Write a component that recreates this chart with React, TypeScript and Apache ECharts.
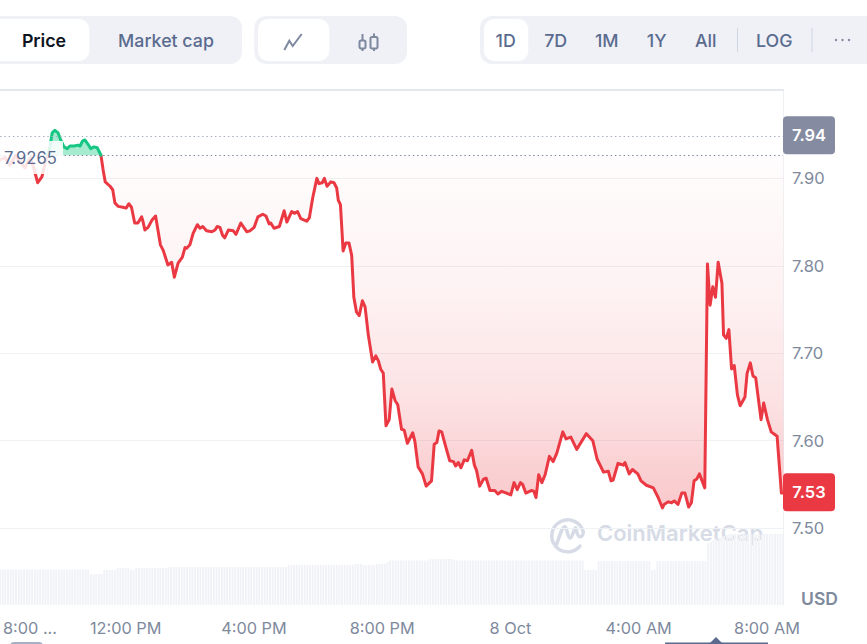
import React, { useEffect, useRef } from "react";
import * as echarts from "echarts";

const baseline = 7.9265;
const highPrice = 7.9477;
const highText = "7.94";
const lastPrice = 7.541;
const lastText = "7.53";
const yTicks = [7.5, 7.6, 7.7, 7.8, 7.9];
const xTicks = [61, 240, 480, 720, 960, 1200, 1440];
const xTickLabels = ["8:00 ...", "12:00 PM", "4:00 PM", "8:00 PM", "8 Oct", "4:00 AM", "8:00 AM"];
const rangeButtons = ["1D", "7D", "1M", "1Y", "All", "LOG"];

// minutes after 8:00 AM
const minutes = [
  8, 18, 27, 37, 46, 55, 65, 70, 79, 87, 94, 98,
  102, 106, 111, 117, 122, 128, 134, 139, 147, 154, 158, 163, 167, 173, 178, 184, 190, 195, 197,
  201, 205, 214, 219, 223, 229, 238, 244, 249, 254, 260, 266, 273, 275, 279, 285, 292, 299, 308, 313, 322, 329, 334, 341, 349, 354, 357, 363, 369, 377, 382, 387, 394,
  404, 410, 414, 419, 424, 428, 435, 444, 449, 458, 469, 475, 483, 490, 499, 505, 511, 514, 520, 530, 539, 544, 553, 558, 564, 570, 581, 586, 592,
  600, 604, 610, 614, 619, 626, 632, 637, 640, 644, 649, 654, 660, 665, 669, 674, 679, 685, 690, 696, 704, 710, 715, 719, 724, 729, 735, 740, 746, 751, 758, 763, 769, 779, 783, 789, 797,
  804, 814, 819, 824, 828, 833, 841, 848, 855, 859, 864, 869, 875, 881, 889, 894, 898, 904, 911, 916, 923, 932, 938, 945, 954, 962, 968, 974, 980, 984, 990,
  1001, 1005, 1009, 1014, 1020, 1026, 1034, 1041, 1048, 1059, 1065, 1074, 1085, 1103, 1115, 1123, 1135, 1144, 1149, 1153, 1162, 1167, 1172, 1175, 1183, 1189, 1199,
  1205, 1215, 1228, 1237, 1245, 1248, 1256, 1262, 1267, 1274, 1281, 1287, 1294, 1299, 1304, 1309, 1314, 1324, 1329, 1334, 1339, 1344, 1349, 1356, 1359, 1364, 1369, 1374, 1379, 1385, 1390, 1399,
  1403, 1409, 1414, 1419, 1429, 1434, 1441, 1448, 1459, 1467, 1471,
];

const prices = [
  7.921, 7.924, 7.915, 7.926, 7.919, 7.912, 7.924, 7.915, 7.895, 7.902, 7.921, 7.9265,
  7.937, 7.952, 7.955, 7.952, 7.944, 7.936, 7.934, 7.937, 7.937, 7.938, 7.937, 7.943, 7.944, 7.939, 7.934, 7.936, 7.935, 7.929, 7.9265,
  7.91, 7.896, 7.891, 7.887, 7.872, 7.868, 7.867, 7.866, 7.871, 7.867, 7.849, 7.849, 7.856, 7.852, 7.841, 7.844, 7.852, 7.857, 7.824, 7.818, 7.801, 7.804, 7.787, 7.803, 7.81, 7.821, 7.82, 7.824, 7.837, 7.847, 7.843, 7.845, 7.84,
  7.839, 7.841, 7.845, 7.844, 7.835, 7.832, 7.841, 7.84, 7.836, 7.849, 7.839, 7.84, 7.844, 7.856, 7.859, 7.857, 7.848, 7.849, 7.843, 7.845, 7.863, 7.85, 7.862, 7.86, 7.862, 7.854, 7.851, 7.855, 7.877,
  7.9, 7.894, 7.895, 7.9, 7.891, 7.896, 7.895, 7.889, 7.875, 7.87, 7.817, 7.826, 7.826, 7.812, 7.764, 7.747, 7.743, 7.76, 7.753, 7.721, 7.69, 7.697, 7.691, 7.682, 7.677, 7.617, 7.624, 7.659, 7.646, 7.641, 7.613, 7.612, 7.597, 7.609, 7.599, 7.57, 7.562,
  7.548, 7.554, 7.596, 7.598, 7.611, 7.61, 7.592, 7.577, 7.576, 7.571, 7.575, 7.569, 7.578, 7.577, 7.589, 7.572, 7.566, 7.548, 7.556, 7.557, 7.543, 7.543, 7.539, 7.542, 7.54, 7.538, 7.552, 7.544, 7.552, 7.55, 7.54,
  7.543, 7.542, 7.535, 7.561, 7.552, 7.561, 7.582, 7.576, 7.586, 7.61, 7.602, 7.604, 7.59, 7.608, 7.6, 7.579, 7.564, 7.565, 7.554, 7.555, 7.574, 7.573, 7.572, 7.575, 7.562, 7.567, 7.562,
  7.554, 7.549, 7.546, 7.535, 7.523, 7.527, 7.53, 7.529, 7.531, 7.527, 7.54, 7.54, 7.524, 7.529, 7.554, 7.556, 7.562, 7.546, 7.802, 7.755, 7.776, 7.764, 7.804, 7.78, 7.721, 7.717, 7.727, 7.682, 7.686, 7.652, 7.64, 7.65,
  7.677, 7.689, 7.674, 7.672, 7.624, 7.643, 7.624, 7.61, 7.605, 7.54, 7.54,
];

// one bar each 5 minutes from 8:00 AM
const volumes = [
  35.5, 35.5, 35.5, 35.5, 35.5, 35.5, 35.5, 35.5, 35.5, 35.5, 35.5, 35.5, 35.5, 35.5, 35.5, 35.5, 35.5, 35.5, 35.5, 35.5,
  35.5, 35.5, 35.5, 35.5, 35.5, 35.5, 35.5, 35.5, 35.5, 35.5, 35.5, 35.5, 35.5, 35.5, 35.5,
  31, 31, 31, 31, 31, 35, 35, 35, 35, 35, 37, 37, 37, 37, 37, 35, 35,
  37, 37, 37, 37, 37, 37, 37, 37, 37, 37, 37, 37,
  38, 38, 38, 38, 38, 38, 38, 38, 38, 38, 38, 38, 38, 38, 38, 38, 38, 38, 38, 38, 38, 38, 38,
  38, 38, 38, 38, 38, 38, 38, 38, 38, 38, 38, 38, 38, 38, 38, 38, 38, 38, 38, 38, 38, 38,
  40, 40, 40, 40, 40, 40, 40, 40, 40, 40, 40, 40, 40, 40, 40, 40, 40, 40, 40, 40, 40, 40, 40, 40, 40,
  41, 41, 41, 40, 40, 40, 40, 40, 41, 41, 41, 41, 43,
  44.5, 44.5, 44.5, 44.5, 44.5, 44.5, 44.5, 44.5, 44.5, 44.5, 44.5, 44.5, 44.5, 44.5, 44.5,
  46, 46, 46, 46, 46, 46, 46, 46, 46,
  44.5, 44.5, 44.5, 44.5, 44.5, 44.5, 44.5, 44.5, 44.5, 44.5, 44.5, 44.5, 44.5, 44.5, 44.5, 44.5, 44.5, 44.5, 44.5, 44.5,
  44.5, 44.5, 44.5, 44.5, 44.5, 44.5, 44.5, 44.5, 44.5, 44.5, 44.5, 44.5, 44.5, 44.5, 44.5, 44.5, 44.5, 44.5, 44.5, 44.5,
  44.5, 44.5, 44.5, 44.5, 44.5, 44.5, 44.5, 44.5, 44.5,
  35, 35, 35, 35, 35,
  44, 44, 44, 44, 44, 44, 44, 44, 44, 44, 44, 44, 44, 44, 44, 44, 44, 44, 44, 44,
  35, 35,
  44, 44, 44, 44, 44, 44, 44, 44, 44, 44, 44, 44, 44, 44, 44, 44, 44, 44, 44,
  62, 63, 65, 66, 67, 68, 69, 70,
  71, 71, 71, 71, 71, 71, 71, 71, 71, 71, 71, 71, 71, 71, 71, 71, 71, 71, 71, 71, 71,
];

const FONT = "Inter";
const RED = "#EA3943";
const GREEN = "#16C784";
const MUTED = "#808A9D";
const NAVY = "#5A6B8F";
const ICON = "#7E889F";
const PILL = "#EFF1F6";
const MARK = "#D6DBE6";
const TAG = "path://M4 0H48A4 4 0 0 1 52 4V34A4 4 0 0 1 48 38H4A4 4 0 0 1 0 34V4A4 4 0 0 1 4 0Z";

const LOGO =
  "M580 546.2A16 16 0 1 1 583.3 532C583.3 534.5 582 536.8 580 536.8C576.5 536.8 576.5 527.7 575.7 527.7C574 527.7 572.5 538 570 538C567.5 538 567 526.7 565 526.7C562 526.7 559 538 556.7 544";

function rect(x: number, y: number, width: number, height: number, r: number, fill: string) {
  return { type: "rect", shape: { x, y, width, height, r }, style: { fill }, silent: true };
}

function label(text: string, x: number, y: number, fill: string, fontWeight = 500, fontSize = 17.8) {
  return {
    type: "text",
    x,
    y,
    silent: true,
    style: { text, fill, fontFamily: FONT, fontSize, fontWeight, align: "center", verticalAlign: "middle" },
  };
}

function buildGraphic() {
  const rangeCentres = [505.7, 555.7, 606.7, 656.7, 705.7, 774.3];
  return [
    rect(-20, 16, 262, 48, 12, PILL),
    rect(-20, 19, 109.3, 42, 10, "#FFFFFF"),
    label("Price", 44, 40.5, "#0D1421", 600),
    label("Market cap", 166, 40.5, NAVY),
    rect(254.3, 16, 152.7, 48, 12, PILL),
    rect(258, 19, 71.3, 42, 10, "#FFFFFF"),
    {
      type: "polyline",
      silent: true,
      shape: { points: [[284.3, 50], [289.3, 40.7], [292.7, 46], [301.7, 34]] },
      style: { stroke: ICON, lineWidth: 2, fill: "none" },
    },
    { type: "line", silent: true, shape: { x1: 362.5, y1: 34, x2: 362.5, y2: 51 }, style: { stroke: ICON, lineWidth: 2 } },
    { type: "rect", silent: true, shape: { x: 359.5, y: 40.5, width: 6, height: 8, r: 1.5 }, style: { fill: PILL, stroke: ICON, lineWidth: 2 } },
    { type: "line", silent: true, shape: { x1: 374, y1: 33.5, x2: 374, y2: 51 }, style: { stroke: ICON, lineWidth: 2 } },
    { type: "rect", silent: true, shape: { x: 370.5, y: 37, width: 7, height: 11.5, r: 1.5 }, style: { fill: PILL, stroke: ICON, lineWidth: 2 } },
    rect(480, 16, 400, 48, 12, PILL),
    rect(484, 19, 44.3, 42, 10, "#FFFFFF"),
    ...rangeButtons.map((t, i) => label(t, rangeCentres[i], 40.5, NAVY)),
    rect(737, 28, 1, 24, 0, "#CFD6E4"),
    rect(811.5, 28, 1, 24, 0, "#CFD6E4"),
    { type: "circle", silent: true, shape: { cx: 836, cy: 40, r: 1.2 }, style: { fill: ICON } },
    { type: "circle", silent: true, shape: { cx: 842.5, cy: 40, r: 1.2 }, style: { fill: ICON } },
    { type: "circle", silent: true, shape: { cx: 849, cy: 40, r: 1.2 }, style: { fill: ICON } },
    { type: "cmcLogo", silent: true, x: 0, y: 0, style: { fill: "none", stroke: MARK, lineWidth: 3.5, lineCap: "round" } },
    {
      type: "text",
      silent: true,
      x: 597,
      y: 533,
      style: { text: "CoinMarketCap", fill: MARK, fontFamily: FONT, fontSize: 22, fontWeight: 600, verticalAlign: "middle" },
    },
    { ...rect(0, 141, 63, 33, 0, "rgba(255,255,255,0.86)"), z: 20 },
    {
      type: "text",
      silent: true,
      z: 21,
      x: 4,
      y: 157.5,
      style: { text: String(baseline), fill: NAVY, fontFamily: FONT, fontSize: 16.6, verticalAlign: "middle" },
    },
    label("USD", 819.5, 598.5, MUTED, 600, 17.5),
    rect(10, 642, 33, 8, 6, "#A6B0C3"),
    rect(665, 642.6, 103, 3, 0, NAVY),
    {
      type: "polygon",
      silent: true,
      shape: { points: [[709.5, 643.5], [716, 637], [722.5, 643.5]] },
      style: { fill: NAVY },
    },
  ];
}

function buildOption() {
  const redData: (number | null)[][] = [];
  const greenData: number[][] = [];
  minutes.forEach((t, i) => {
    const p = prices[i];
    if (p >= baseline) greenData.push([t, p]);
    if (p <= baseline) redData.push([t, p]);
    if (p > baseline && prices[i - 1] === baseline) redData.push([t, null]);
  });

  const xMin = 8.6;
  const xMax = 1470;
  const tagLabel = { show: true, color: "#FFFFFF", fontFamily: FONT, fontSize: 16.5, fontWeight: 600 };

  return {
    animation: false,
    backgroundColor: "#FFFFFF",
    graphic: buildGraphic(),
    grid: [
      { left: 0, right: 84, top: 90, bottom: 39 },
      { left: 0, right: 84, top: 530, bottom: 39 },
    ],
    xAxis: [
      {
        type: "value",
        gridIndex: 0,
        position: "top",
        min: xMin,
        max: xMax,
        axisLine: { show: true, lineStyle: { color: "#E5E7EE", width: 2 } },
        axisTick: { show: false },
        axisLabel: { show: false },
        splitLine: { show: false },
      },
      {
        type: "value",
        gridIndex: 1,
        min: xMin,
        max: xMax,
        axisLine: { show: false },
        axisTick: { show: false, customValues: xTicks },
        splitLine: { show: false },
        axisLabel: {
          show: true,
          customValues: xTicks,
          margin: 15,
          color: MUTED,
          fontFamily: FONT,
          fontSize: 16.3,
          hideOverlap: false,
          formatter: (v: number) => xTickLabels[xTicks.indexOf(v)] ?? "",
        },
      },
    ],
    yAxis: [
      {
        type: "value",
        gridIndex: 0,
        position: "right",
        min: 7.412,
        max: 8.0011,
        axisLine: { show: true, lineStyle: { color: "#EFF2F5", width: 1 } },
        axisTick: { show: false, customValues: yTicks },
        splitLine: { show: true, lineStyle: { color: "#EFF2F5", width: 1 } },
        axisLabel: {
          customValues: yTicks,
          margin: 9,
          color: MUTED,
          fontFamily: FONT,
          fontSize: 16.5,
          formatter: (v: number) => v.toFixed(2),
        },
      },
      {
        type: "value",
        gridIndex: 1,
        min: 0,
        max: 75,
        show: false,
      },
    ],
    series: [
      {
        type: "bar",
        xAxisIndex: 1,
        yAxisIndex: 1,
        barWidth: 1.9,
        silent: true,
        itemStyle: { color: "#F0F2F6" },
        data: volumes.map((v, i) => [i * 5, v]),
      },
      {
        type: "line",
        xAxisIndex: 0,
        yAxisIndex: 0,
        showSymbol: false,
        silent: true,
        z: 3,
        lineStyle: { color: RED, width: 3, cap: "round", join: "round" },
        areaStyle: {
          origin: baseline,
          opacity: 1,
          color: new echarts.graphic.LinearGradient(0, 0, 0, 1, [
            { offset: 0, color: "rgba(234,57,67,0.01)" },
            { offset: 0.4, color: "rgba(234,57,67,0.07)" },
            { offset: 0.7, color: "rgba(234,57,67,0.15)" },
            { offset: 0.9, color: "rgba(234,57,67,0.24)" },
            { offset: 1, color: "rgba(234,57,67,0.27)" },
          ]),
        },
        data: redData,
        markLine: {
          silent: true,
          symbol: "none",
          precision: 4,
          label: { show: false },
          data: [
            { yAxis: highPrice, lineStyle: { color: "#A6B0C3", type: [1.5, 2.8], width: 1 } },
            { yAxis: baseline, lineStyle: { color: "#808A9D", type: [1.5, 2.8], width: 1 } },
          ],
        },
        markPoint: {
          silent: true,
          symbol: TAG,
          symbolSize: [52, 38],
          data: [
            {
              coord: [xMax, highPrice],
              symbolOffset: [26, -1.5],
              itemStyle: { color: "#858CA2" },
              label: { ...tagLabel, formatter: highText },
            },
            {
              coord: [xMax, lastPrice],
              symbolOffset: [26, 0],
              itemStyle: { color: RED },
              label: { ...tagLabel, formatter: lastText },
            },
          ],
        },
      },
      {
        type: "line",
        xAxisIndex: 0,
        yAxisIndex: 0,
        showSymbol: false,
        silent: true,
        z: 3,
        lineStyle: { color: GREEN, width: 3, cap: "round", join: "round" },
        areaStyle: { origin: baseline, opacity: 1, color: "rgba(22,199,132,0.38)" },
        data: greenData,
      },
    ],
  };
}

export default function App() {
  const ref = useRef<HTMLDivElement>(null);
  useEffect(() => {
    echarts.graphic.registerShape("cmcLogo", echarts.graphic.extendPath(LOGO, {}));
    const chart = echarts.init(ref.current as HTMLDivElement, undefined, { renderer: "svg" });
    chart.setOption(buildOption() as any);
    return () => chart.dispose();
  }, []);
  return <div ref={ref} style={{ position: "fixed", left: 0, top: 0, width: 867, height: 644 }} />;
}
